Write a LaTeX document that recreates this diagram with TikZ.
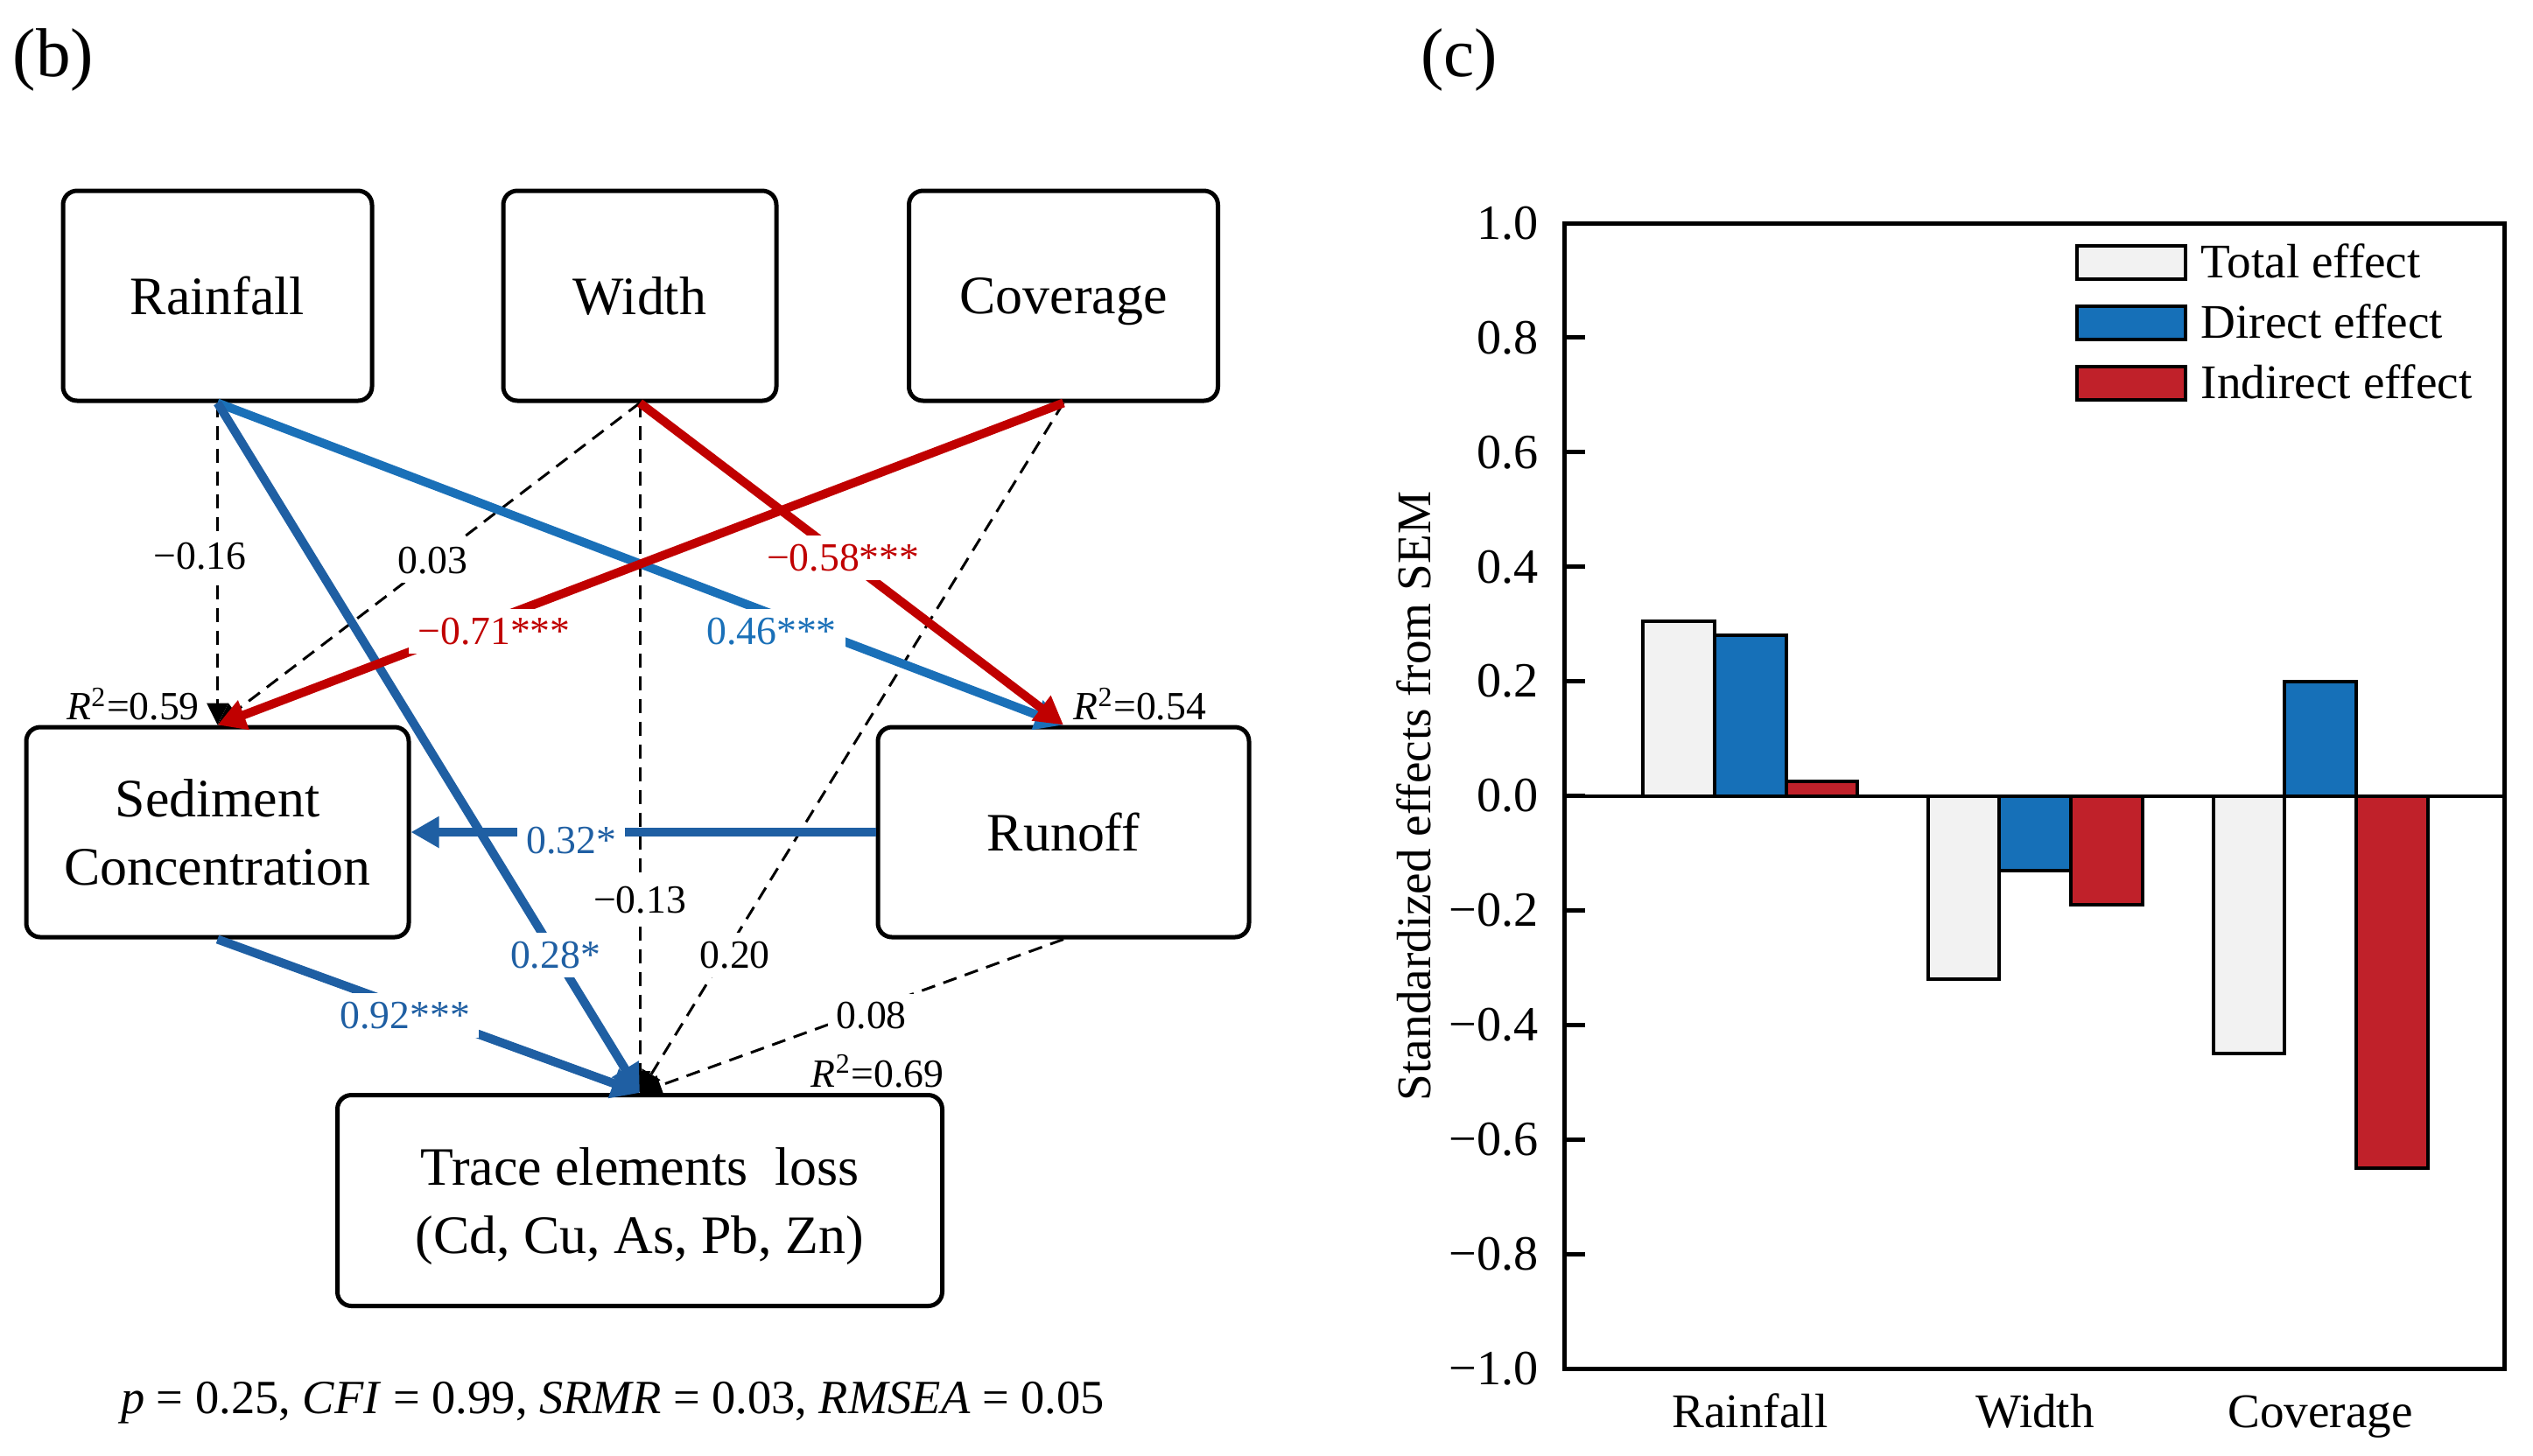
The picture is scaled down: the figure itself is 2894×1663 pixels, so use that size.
\documentclass[tikz,border=0pt]{standalone}
\usepackage{fontspec}
\setmainfont{Liberation Serif}
\usetikzlibrary{arrows.meta}
\definecolor{pathblue}{HTML}{1A70B8}
\definecolor{pathnavy}{HTML}{1F5FA3}
\definecolor{pathred}{HTML}{C00000}
\definecolor{bargray}{HTML}{F2F2F2}
\definecolor{barblue}{HTML}{1670B8}
\definecolor{barred}{HTML}{C0212A}
\tikzset{
  var/.style={draw, line width=0.5mm, rounded corners=1.6mm, minimum height=24mm, text depth=0pt, align=center, font=\fontsize{17.6}{22}\selectfont},
  sig/.style={line width=1mm, -{Triangle[length=3.2mm, width=3.4mm]}},
  nonsig/.style={line width=0.3mm, dash pattern=on 1.6mm off 1mm, -{Triangle[length=2.5mm, width=2.4mm]}},
  coef/.style={fill=white, inner sep=1mm, font=\fontsize{13}{15}\selectfont},
  rsq/.style={inner sep=0pt, font=\fontsize{13}{15}\selectfont},
  panel/.style={font=\fontsize{22.5}{26}\selectfont},
  chart/.style={inner sep=0pt, font=\fontsize{15.7}{18}\selectfont},
  bar/.style={line width=0.4mm},
}
\begin{document}
\begin{tikzpicture}[x=0.1mm, y=-0.1mm]
    \useasboundingbox (0,0) rectangle (2894,1663);
    \node[panel] (pb) at (61,68) {(b)};
    \node[panel] (pc) at (1667,68) {(c)};
    \node[var, minimum width=35.3mm] (rain) at (248.5,338) {Rainfall};
    \node[var, minimum width=31.2mm] (wid) at (731,338) {Width};
    \node[var, minimum width=35.3mm] (cov) at (1215,338) {Coverage};
    \node[var, minimum width=43.7mm] (sed) at (248.5,951) {Sediment\\Concentration};
    \node[var, minimum width=42.4mm] (run) at (1215,951) {Runoff};
    \node[var, minimum width=69.1mm, minimum height=24.1mm] (loss) at (731,1372) {Trace elements\ \ loss\\(Cd, Cu, As, Pb, Zn)};
    \draw[nonsig] (rain.south) -- node[coef, pos=0.475, xshift=-2mm] (c1) {−0.16} (sed.north);
    \draw[nonsig] (wid.south) -- node[coef, pos=0.49] (c2) {0.03} (sed.north);
    \draw[nonsig] (wid.south) -- node[coef, pos=0.72] (c3) {−0.13} (loss.north);
    \draw[nonsig] (cov.south) -- node[coef, pos=0.8, xshift=1.2mm] (c4) {0.20} (loss.north);
    \draw[nonsig] (run.south) -- node[coef, pos=0.453, yshift=-0.8mm] (c5) {0.08} (loss.north);
    \draw[sig, pathblue] (rain.south) -- node[coef, pos=0.655, yshift=-2mm] (c6) {0.46***} (run.north);
    \draw[sig, pathnavy] (rain.south) -- node[coef, pos=0.8] (c7) {0.28*} (loss.north);
    \draw[sig, pathnavy] (run.west) -- node[coef, pos=0.655, yshift=-1mm] (c8) {0.32*} (sed.east);
    \draw[sig, pathnavy] (sed.south) -- node[coef, pos=0.444, yshift=-0.9mm] (c9) {0.92***} (loss.north);
    \draw[sig, pathred] (wid.south) -- node[coef, pos=0.48] (c10) {−0.58***} (run.north);
    \draw[sig, pathred] (cov.south) -- node[coef, pos=0.673, yshift=-1.3mm] (c11) {−0.71***} (sed.north);
    \node[rsq, anchor=base east, xshift=-2mm, yshift=0.6mm] (r1) at (sed.north) {\textit{R}\textsuperscript{2}=0.59};
    \node[rsq, anchor=base west, xshift=1.1mm, yshift=0.6mm] (r2) at (run.north) {\textit{R}\textsuperscript{2}=0.54};
    \node[rsq, anchor=base east, yshift=0.7mm] (r3) at (loss.north east) {\textit{R}\textsuperscript{2}=0.69};
    \node[anchor=base, font=\fontsize{15.5}{18}\selectfont] (fit) at (700,1615) {\textit{p} = 0.25, \textit{CFI} = 0.99, \textit{SRMR} = 0.03, \textit{RMSEA} = 0.05};
    \foreach \gc/\a/\b/\c in {1999.5/0.305/0.28/0.025, 2325/-0.32/-0.13/-0.19, 2651/-0.45/0.20/-0.65} {
        \draw[bar, fill=bargray] ({\gc-122.5},909.5) rectangle ({\gc-41},{909.5-654.5*\a});
        \draw[bar, fill=barblue] ({\gc-41},909.5) rectangle ({\gc+41},{909.5-654.5*\b});
        \draw[bar, fill=barred] ({\gc+41},909.5) rectangle ({\gc+122.5},{909.5-654.5*\c});
    }
    \draw[line width=0.4mm] (1787,909.5) -- (2861,909.5);
    \draw[line width=0.5mm] (1787,255) rectangle (2861,1564);
    \foreach \v/\t [count=\i] in {1/1.0, 0.8/0.8, 0.6/0.6, 0.4/0.4, 0.2/0.2, 0/0.0, -0.2/−0.2, -0.4/−0.4, -0.6/−0.6, -0.8/−0.8, -1/−1.0}
        \draw[line width=0.5mm] (1787,{909.5-654.5*\v}) -- ++(24,0) node[chart, pos=0, anchor=east, xshift=-2.7mm, font=\fontsize{16}{18}\selectfont] (tk\i) {\t};
    \node[chart, rotate=90] (ylab) at (1615,910) {Standardized effects from SEM};
    \foreach \gc/\t [count=\i] in {1999.5/Rainfall, 2325/Width, 2651/Coverage}
        \node[chart, anchor=base] (cat\i) at (\gc,1631) {\t};
    \foreach \y/\c/\t [count=\i] in {281/bargray/Total effect, 350/barblue/Direct effect, 419/barred/Indirect effect} {
        \draw[bar, fill=\c] (2373,\y) rectangle (2497,{\y+38});
        \node[chart, anchor=base west] (lg\i) at (2514,{\y+36}) {\t};
    }
\end{tikzpicture}
\end{document}
